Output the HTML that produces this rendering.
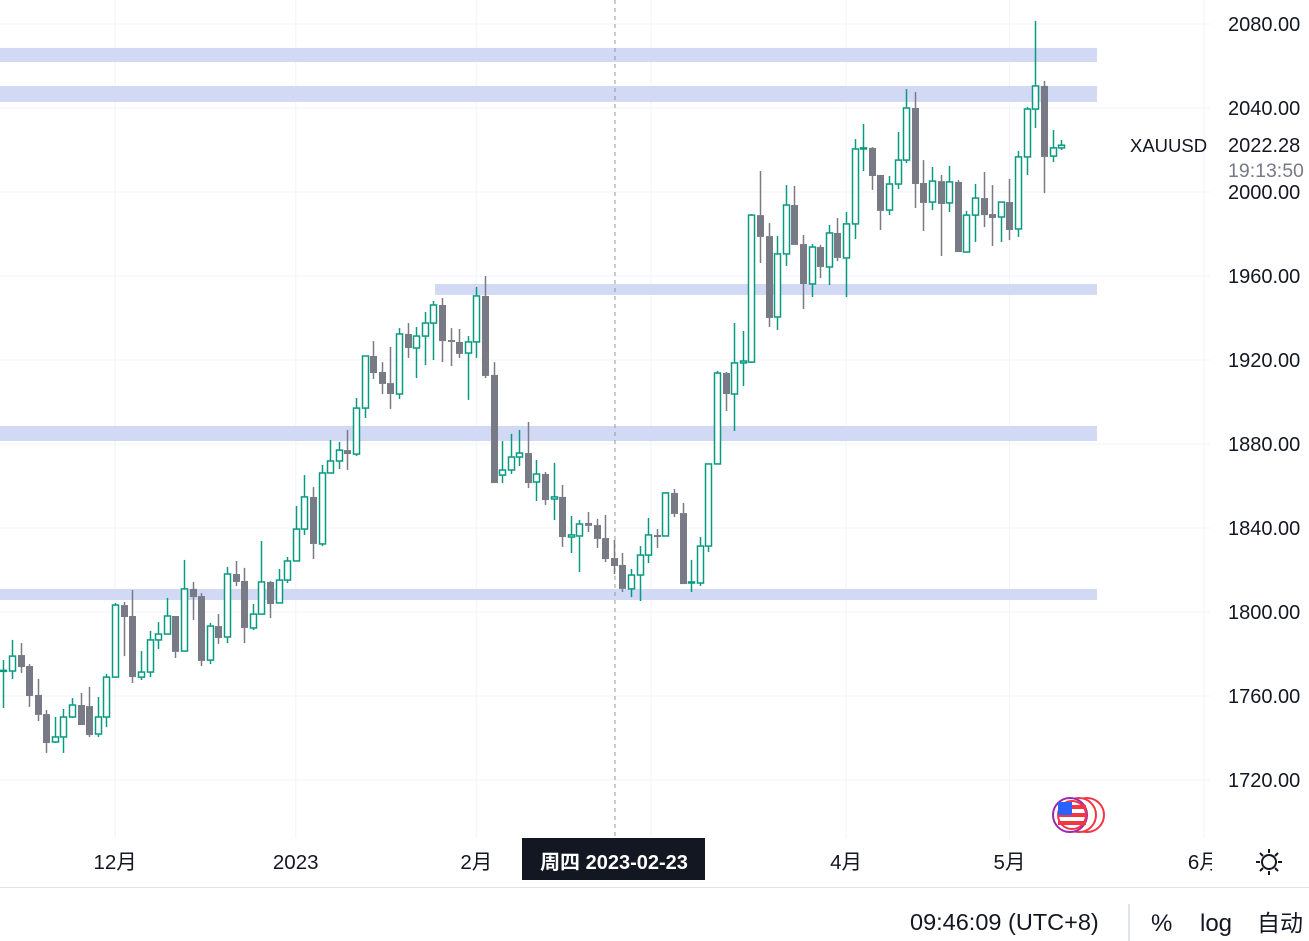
<!DOCTYPE html>
<html><head><meta charset="utf-8">
<style>
html,body{margin:0;padding:0;background:#fff;width:1309px;height:941px;overflow:hidden;font-family:"Liberation Sans","Noto Sans CJK SC",sans-serif;}
svg{position:absolute;left:0;top:0;}
</style></head>
<body>
<svg id="chart" width="1309" height="941">
  <g id="grid"></g>
  <g id="zones"></g>
  <line x1="615" y1="0" x2="615" y2="838" stroke="#9598a1" stroke-dasharray="4,4" stroke-width="1"/>
  <g id="candles"></g>
  <g id="yaxis"></g>
  <g id="xaxis"></g>
  <text x="1130" y="152" font-size="18.5" fill="#131722">XAUUSD</text>
  <text x="1228" y="152" font-size="20" fill="#131722">2022.28</text>
  <text x="1228" y="177" font-size="19.5" fill="#787b86">19:13:50</text>
  <g>
    <rect x="522" y="838" width="183" height="42" fill="#131722"/>
    <text x="614" y="869" font-size="20" fill="#fff" text-anchor="middle" font-weight="bold">周四 2023-02-23</text>
  </g>
  <g>
    <circle cx="1087" cy="815" r="17" fill="#fff" stroke="#f23645" stroke-width="2"/>
    <circle cx="1079" cy="815" r="17" fill="#fff" stroke="#f23645" stroke-width="2"/>
    <circle cx="1070" cy="815" r="17" fill="#fff" stroke="#9c27b0" stroke-width="2"/>
    <circle cx="1072" cy="815" r="14" fill="#fff" stroke="#f23645" stroke-width="2"/>
    <rect x="1058" y="805" width="28" height="4" fill="#f23645"/>
    <rect x="1058" y="813" width="28" height="4" fill="#f23645"/>
    <rect x="1058" y="821" width="28" height="4" fill="#f23645"/>
    <rect x="1058" y="802" width="14" height="13" fill="#2962ff"/>
  </g>
  <g stroke="#131722" stroke-width="2" fill="none">
    <circle cx="1269" cy="862" r="7"/>
    <line x1="1269" y1="849" x2="1269" y2="853"/><line x1="1269" y1="871" x2="1269" y2="875"/>
    <line x1="1256" y1="862" x2="1260" y2="862"/><line x1="1278" y1="862" x2="1282" y2="862"/>
    <line x1="1260" y1="853" x2="1263" y2="856"/><line x1="1275" y1="868" x2="1278" y2="871"/>
    <line x1="1278" y1="853" x2="1275" y2="856"/><line x1="1260" y1="871" x2="1263" y2="868"/>
  </g>
  <line x1="0" y1="887.5" x2="1309" y2="887.5" stroke="#e0e3eb"/>
  <text x="910" y="930" font-size="23.5" fill="#131722">09:46:09 (UTC+8)</text>
  <line x1="1129" y1="904" x2="1129" y2="941" stroke="#e0e3eb" stroke-width="2"/>
  <text x="1151" y="931" font-size="24" fill="#131722">%</text>
  <text x="1200" y="931" font-size="24" fill="#131722">log</text>
  <text x="1257" y="931" font-size="23" fill="#131722">自动</text>
</svg>
<script>
const opens=[1771.9,1771.9,1779.5,1774.3,1760.5,1751.4,1738.1,1740.5,1750.0,1755.7,1755.2,1741.9,1750.0,1769.0,1803.3,1798.1,1769.0,1771.4,1786.7,1789.5,1798.1,1781.4,1811.0,1807.6,1777.1,1793.3,1788.1,1818.1,1814.8,1792.4,1799.0,1814.3,1804.3,1815.2,1824.3,1839.5,1854.8,1832.4,1866.2,1871.9,1877.1,1875.2,1897.1,1921.9,1914.3,1909.0,1903.8,1932.4,1925.7,1931.4,1937.6,1946.2,1929.5,1928.6,1923.3,1928.6,1950.5,1912.9,1865.2,1867.6,1873.8,1875.7,1861.9,1865.7,1853.8,1854.8,1835.7,1836.2,1842.4,1841.4,1835.2,1825.7,1822.4,1811.0,1817.6,1827.1,1836.7,1836.2,1856.7,1847.1,1813.8,1813.8,1831.4,1870.5,1913.8,1903.8,1918.6,1919.0,1989.0,1979.0,1940.5,1970.5,1993.8,1975.2,1956.2,1973.8,1964.3,1980.5,1968.6,1984.8,2020.5,2021.0,2008.1,1991.4,2003.8,2015.2,2040.0,2004.3,1995.2,2005.2,1994.8,2004.8,1971.4,1989.0,1997.1,1989.5,1988.1,1995.2,1982.4,2016.7,2039.5,2050.5,2017.1,2021.0];
const highs=[1777.1,1786.7,1785.2,1775.2,1768.1,1753.3,1750.0,1753.8,1759.0,1761.4,1764.3,1759.5,1770.5,1804.3,1804.8,1810.5,1781.4,1791.0,1795.2,1806.7,1798.1,1824.8,1814.3,1809.0,1794.8,1799.0,1821.4,1824.3,1821.0,1803.8,1833.8,1814.8,1820.5,1826.2,1850.5,1865.2,1859.5,1870.0,1881.9,1881.0,1886.7,1901.9,1921.9,1929.0,1919.0,1926.2,1935.2,1937.6,1935.7,1942.9,1948.1,1949.5,1935.2,1934.8,1931.4,1954.8,1960.0,1919.0,1881.4,1884.8,1886.7,1890.5,1872.4,1866.7,1871.0,1860.5,1845.7,1843.8,1847.6,1844.3,1846.2,1834.3,1828.1,1820.5,1831.4,1844.8,1839.5,1857.1,1858.6,1851.9,1824.8,1835.7,1870.5,1914.8,1914.3,1937.6,1933.8,1989.5,2010.0,1985.2,1979.0,2003.3,2002.9,1979.5,1975.2,1974.8,1984.3,1987.6,1990.5,2025.2,2032.4,2021.4,2008.1,2007.6,2028.6,2049.0,2047.6,2015.2,2011.9,2008.1,2012.4,2005.7,1991.0,2003.8,2009.5,2003.3,1995.2,2006.2,2019.5,2040.5,2081.4,2052.9,2029.5,2024.8];
const lows=[1754.3,1768.1,1771.0,1754.8,1748.1,1732.9,1737.6,1732.9,1749.5,1746.2,1740.5,1740.5,1745.2,1769.0,1779.0,1766.2,1767.6,1769.0,1782.4,1789.5,1778.1,1781.4,1796.2,1774.3,1775.2,1784.8,1785.2,1812.4,1785.2,1791.4,1799.0,1797.1,1804.3,1813.8,1824.3,1836.7,1825.2,1831.4,1866.2,1868.1,1867.6,1874.3,1892.4,1911.0,1903.8,1896.7,1901.4,1921.0,1911.4,1917.6,1920.0,1919.0,1917.1,1921.0,1901.0,1921.0,1911.4,1861.4,1861.4,1865.7,1869.5,1859.0,1852.9,1851.0,1843.8,1831.0,1828.1,1819.0,1838.1,1830.5,1823.8,1818.1,1809.5,1807.1,1805.2,1823.3,1830.5,1836.2,1845.2,1813.3,1809.5,1812.4,1828.6,1870.5,1895.7,1886.2,1907.6,1918.6,1966.2,1935.7,1934.3,1964.8,1974.8,1944.3,1950.0,1959.0,1955.7,1967.1,1950.0,1977.6,2010.0,2001.0,1981.9,1989.0,2001.4,2013.8,1992.4,1981.4,1991.4,1969.5,1990.5,1971.4,1971.4,1976.2,1983.3,1974.3,1976.2,1977.1,1978.6,2008.1,2030.5,1999.5,2014.3,2020.0];
const closes=[1772.2,1779.0,1773.8,1760.0,1751.0,1737.6,1740.5,1750.0,1755.7,1746.2,1741.4,1750.0,1769.0,1803.3,1797.6,1769.0,1771.4,1786.7,1789.5,1798.1,1781.0,1811.0,1807.1,1776.7,1793.3,1787.6,1818.1,1814.3,1792.4,1799.0,1814.3,1803.8,1815.2,1824.3,1839.5,1854.8,1832.4,1866.2,1871.9,1877.1,1875.2,1897.1,1921.9,1913.8,1908.6,1903.8,1932.4,1925.7,1931.4,1937.6,1946.2,1929.0,1928.6,1922.9,1928.6,1950.5,1912.4,1861.4,1867.6,1873.8,1875.7,1861.4,1865.7,1853.3,1854.8,1835.7,1836.7,1841.9,1841.0,1834.8,1825.2,1821.9,1811.0,1817.6,1827.1,1836.7,1835.7,1856.7,1846.7,1813.3,1814.3,1831.4,1870.5,1913.8,1903.8,1918.6,1919.5,1989.0,1978.6,1940.0,1970.5,1993.8,1974.8,1956.2,1973.8,1964.3,1980.5,1968.6,1984.8,2020.5,2021.0,2007.6,1991.0,2003.8,2015.2,2040.0,2003.8,1994.8,2005.2,1994.3,2004.8,1971.4,1989.0,1997.1,1989.0,1987.6,1995.2,1981.9,2016.7,2039.5,2050.5,2016.7,2021.0,2022.28];
const priceTicks=[2080,2040,2000,1960,1920,1880,1840,1800,1760,1720];
const monthLabels=["12月","2023","2月","3月","4月","5月","6月"];
const monthIndex=[13,34,55,75.3,98,117,139.6];
const zoneTop=[2068.6,2050.5,1956.2,1888.6,1811.0];
const zoneBottom=[2061.9,2042.9,1951.0,1881.4,1805.7];
const zoneStartIdx=[-1,-1,50.2,-1,-1];

const NS="http://www.w3.org/2000/svg";
const X0=3.3, STEP=8.6, PLOT_R=1210;
function yScale(p){return 24+(2080-p)*2.1;}
function xScale(i){return X0+i*STEP;}
function mk(tag,attrs,parent){const e=document.createElementNS(NS,tag);for(const k in attrs)e.setAttribute(k,attrs[k]);parent.appendChild(e);return e;}

const grid=document.getElementById('grid');
priceTicks.forEach(p=>{
  const l=mk('line',{x1:0,x2:PLOT_R,y1:yScale(p),y2:yScale(p),stroke:'#f0f3fa','stroke-width':1},grid);
  
  
});
monthIndex.forEach(i=>{
  const l=mk('line',{x1:xScale(i),x2:xScale(i),y1:0,y2:838,stroke:'#f0f3fa','stroke-width':1},grid);
  
  
});

const zones=document.getElementById('zones');
zoneTop.forEach((t,k)=>{
  const x1=zoneStartIdx[k]<0?0:xScale(zoneStartIdx[k]);
  const r=mk('rect',{x:x1,y:yScale(t),width:1097-x1,height:yScale(zoneBottom[k])-yScale(t),fill:'#d1d9f5'},zones);
  
  
});

const cg=document.getElementById('candles');
opens.forEach((o,i)=>{
  const c=closes[i],h=highs[i],l=lows[i];
  const up=c>=o;
  const col=up?'#089981':'#787b86';
  const x=Math.round(xScale(i))+0.5;
  const g=mk('g',{},cg);
  
  
  const yt=yScale(Math.max(o,c)), yb=yScale(Math.min(o,c));
  mk('line',{x1:x,x2:x,y1:yScale(h),y2:yt,stroke:col,'stroke-width':1.5},g);
  mk('line',{x1:x,x2:x,y1:yb,y2:yScale(l),stroke:col,'stroke-width':1.5},g);
  if(up){
    mk('rect',{x:x-3,y:yt,width:6,height:Math.max(yb-yt,1),fill:'#fff',stroke:col,'stroke-width':1.5},g);
  }else{
    mk('rect',{x:x-3.5,y:yt,width:7,height:Math.max(yb-yt,1.5),fill:col},g);
  }
});

const ya=document.getElementById('yaxis');
priceTicks.forEach(p=>{
  const t=mk('text',{x:1228,y:yScale(p)+7,'font-size':20,fill:'#131722'},ya);
  t.textContent=p.toFixed(2);
  
  
});

const xa=document.getElementById('xaxis');
monthLabels.forEach((m,k)=>{
  if(m==='3月')return;
  const t=mk('text',{x:xScale(monthIndex[k]),y:869,'font-size':20.5,fill:'#131722','text-anchor':'middle'},xa);
  t.textContent=m;
  
  
});
const cover=mk('rect',{x:1212,y:845,width:30,height:35,fill:'#fff'},xa);


</script>
</body></html>
